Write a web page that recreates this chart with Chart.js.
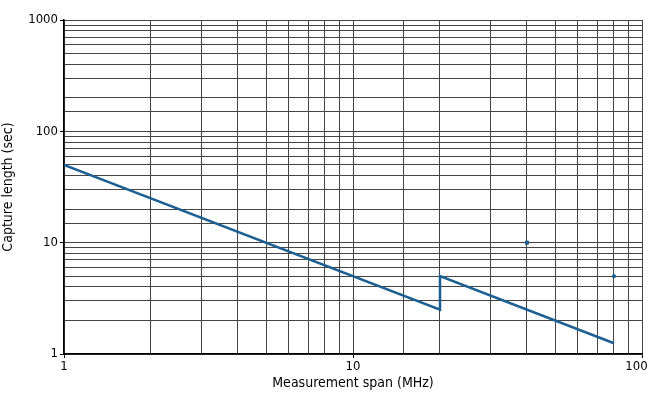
<!DOCTYPE html>
<html>
<head>
<meta charset="utf-8">
<script src="https://cdn.jsdelivr.net/npm/chart.js@4/dist/chart.umd.min.js"></script>
<style>
  html, body { margin: 0; padding: 0; background: #fff; }
  #wrap { width: 650px; height: 399px; }
</style>
</head>
<body>
<div id="wrap"><canvas id="chart"></canvas></div>
<script>
// Capture length vs measurement span (log-log)
const spanMHz = [1, 20, 20, 80];
const captureSec = [50, 2.5, 5, 1.25];
const markerSpan = [40, 80];
const markerSec = [10, 5];
const xTickLabels = [1, 10, 100];
const yTickLabels = [1, 10, 100, 1000];

const FONT = "'Liberation Sans Narrow', 'DejaVu Sans Condensed', 'Roboto', sans-serif";
const LINE_BLUE = '#1b5f93';

const isMajor = (v, list) => list.includes(Math.round(v * 1000) / 1000);

const ctx = document.getElementById('chart').getContext('2d');
const chart = new Chart(ctx, {
    type: 'scatter',
    data: {
        datasets: [
            {
                data: spanMHz.map((x, i) => ({ x: x, y: captureSec[i] })),
                showLine: true,
                borderColor: LINE_BLUE,
                borderWidth: 2.5,
                pointRadius: 0,
                tension: 0
            },
            {
                data: markerSpan.map((x, i) => ({ x: x, y: markerSec[i] })),
                showLine: false,
                pointStyle: 'rect',
                pointRadius: [2.2, 1.8],
                backgroundColor: LINE_BLUE,
                borderColor: LINE_BLUE,
                borderWidth: 1
            }
        ]
    },
    options: {
        responsive: true,
        maintainAspectRatio: false,
        animation: false,
        layout: { padding: { top: 20, right: 8, left: 0, bottom: 0 } },
        plugins: {
            legend: { display: false },
            tooltip: { enabled: false }
        },
        scales: {
            x: {
                type: 'logarithmic',
                min: 1,
                max: 100,
                border: { color: '#000', width: 1.5 },
                grid: {
                    color: '#444',
                    lineWidth: 1,
                    tickLength: 4,
                    tickColor: (c) => isMajor(c.tick.value, xTickLabels) ? '#000' : 'rgba(0,0,0,0)'
                },
                ticks: {
                    autoSkip: false,
                    maxRotation: 0,
                    padding: 1,
                    color: '#000',
                    font: { family: FONT, size: 13 },
                    // last label kept inside the canvas edge
                    callback: (v) => !isMajor(v, xTickLabels) ? '' : (v === 100 ? '100   ' : String(v))
                },
                title: {
                    display: true,
                    text: 'Measurement span (MHz)',
                    color: '#000',
                    font: { family: FONT, size: 14 },
                    padding: { top: 0, bottom: 7 }
                },
                afterFit: (scale) => {
                    scale.height = 45;
                    scale.paddingLeft = 0;
                    scale.paddingRight = 0;
                }
            },
            y: {
                type: 'logarithmic',
                min: 1,
                max: 1000,
                border: { color: '#000', width: 1.5 },
                grid: {
                    color: '#444',
                    lineWidth: 1,
                    tickLength: 4,
                    tickColor: (c) => isMajor(c.tick.value, yTickLabels) ? '#000' : 'rgba(0,0,0,0)'
                },
                ticks: {
                    autoSkip: false,
                    padding: 2,
                    color: '#000',
                    font: { family: FONT, size: 13 },
                    callback: (v) => isMajor(v, yTickLabels) ? String(v) : ''
                },
                title: {
                    display: true,
                    text: 'Capture length (sec)',
                    color: '#000',
                    font: { family: FONT, size: 14 },
                    padding: { top: 0, bottom: 4 }
                },
                afterFit: (scale) => {
                    scale.width = 64;
                    scale.paddingTop = 0;
                    scale.paddingBottom = 0;
                }
            }
        }
    }
});
</script>
</body>
</html>
